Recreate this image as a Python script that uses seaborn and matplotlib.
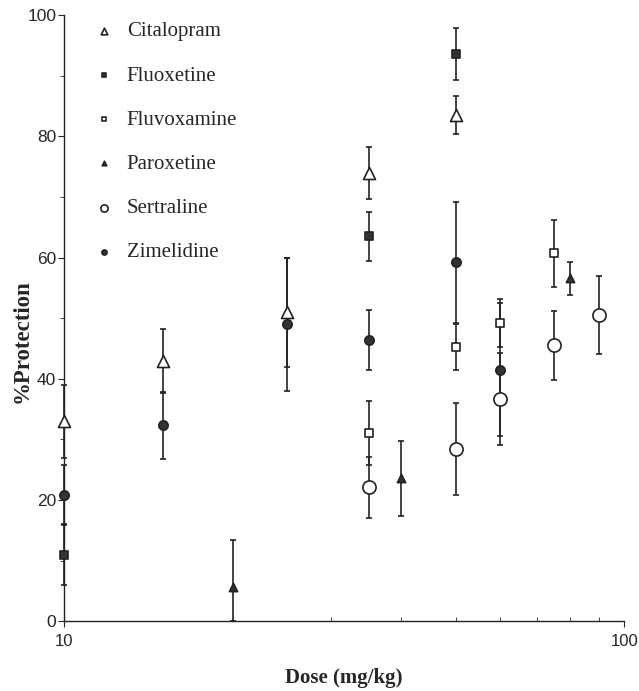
import numpy as np
import pandas as pd
import matplotlib
matplotlib.use("Agg")
import matplotlib.pyplot as plt
from matplotlib.ticker import FixedLocator, NullFormatter
import seaborn as sns

# values
drugs = ["Citalopram", "Fluoxetine", "Fluvoxamine", "Paroxetine", "Sertraline", "Zimelidine"]

citalopram_dose = [10, 15, 25, 35, 50]
citalopram_prot = [33, 43, 51, 74, 83.5]
citalopram_err = [6, 5.3, 9, 4.3, 3.1]

fluoxetine_dose = [10, 35, 50]
fluoxetine_prot = [11, 63.5, 93.6]
fluoxetine_err = [5, 4, 4.3]

fluvoxamine_dose = [35, 50, 60, 75]
fluvoxamine_prot = [31, 45.2, 49.2, 60.7]
fluvoxamine_err = [5.3, 3.8, 4, 5.5]

paroxetine_dose = [20, 40, 80]
paroxetine_prot = [5.6, 23.6, 56.6]
paroxetine_err = [7.8, 6.2, 2.7]

sertraline_dose = [35, 50, 60, 75, 90]
sertraline_prot = [22.1, 28.4, 36.6, 45.5, 50.5]
sertraline_err = [5, 7.6, 7.6, 5.7, 6.4]

zimelidine_dose = [10, 15, 25, 35, 50, 60]
zimelidine_prot = [20.8, 32.3, 49, 46.4, 59.2, 41.5]
zimelidine_err = [5, 5.6, 11, 5, 10, 11]

series = {
    "Citalopram": (citalopram_dose, citalopram_prot, citalopram_err),
    "Fluoxetine": (fluoxetine_dose, fluoxetine_prot, fluoxetine_err),
    "Fluvoxamine": (fluvoxamine_dose, fluvoxamine_prot, fluvoxamine_err),
    "Paroxetine": (paroxetine_dose, paroxetine_prot, paroxetine_err),
    "Sertraline": (sertraline_dose, sertraline_prot, sertraline_err),
    "Zimelidine": (zimelidine_dose, zimelidine_prot, zimelidine_err),
}

rows = []
for drug, (d, p, e) in series.items():
    for xi, yi, ei in zip(d, p, e):
        rows.append(dict(Drug=drug, dose=xi, prot=yi, err=ei))
df = pd.DataFrame(rows)

# marker, face colour, size
styles = {
    "Citalopram": ("^", "white", 75),
    "Fluoxetine": ("s", "#333333", 40),
    "Fluvoxamine": ("s", "white", 40),
    "Paroxetine": ("^", "#333333", 35),
    "Sertraline": ("o", "white", 90),
    "Zimelidine": ("o", "#333333", 45),
}

sns.set_style("ticks")
plt.rcParams["font.family"] = ["Liberation Sans", "DejaVu Sans"]

fig = plt.figure(figsize=(6.39, 6.91), dpi=100)
ax = fig.add_axes([0.100, 0.101, 0.877, 0.877])

for drug in drugs:
    sub = df[df["Drug"] == drug]
    # bars stop at the x axis (nothing below 0 %)
    lower = np.minimum(sub["err"], sub["prot"])
    eb = ax.errorbar(sub["dose"], sub["prot"], yerr=[lower, sub["err"]],
                     fmt="none", ecolor="#222222", elinewidth=1.2,
                     capsize=2.5, capthick=1.2, zorder=2)
    for art in eb.lines[1] + eb.lines[2]:
        art.set_clip_on(False)

for drug in drugs:
    sub = df[df["Drug"] == drug]
    m, fc, s = styles[drug]
    sns.scatterplot(data=sub, x="dose", y="prot", marker=m, s=s,
                    facecolor=fc, edgecolor="#222222", linewidth=1.2,
                    label=drug, ax=ax, zorder=3, clip_on=False)

ax.set_xscale("log")
ax.set_xlim(10, 100)
ax.set_ylim(0, 100)
ax.xaxis.set_major_locator(FixedLocator([10, 100]))
ax.set_xticklabels(["10", "100"])
ax.xaxis.set_minor_locator(FixedLocator([20, 30, 40, 50, 60, 70, 80, 90]))
ax.xaxis.set_minor_formatter(NullFormatter())
ax.tick_params(axis="x", which="major", direction="out", length=4,
               labelsize=12, pad=5)
ax.tick_params(axis="x", which="minor", direction="in", length=3)
ax.set_yticks([0, 20, 40, 60, 80, 100])
ax.yaxis.set_minor_locator(FixedLocator([10, 30, 50, 70, 90]))
ax.tick_params(axis="y", which="major", direction="out", length=4,
               labelsize=12.5, pad=1.5)
ax.tick_params(axis="y", which="minor", direction="out", length=3)
sns.despine(ax=ax)
for sp in ["left", "bottom"]:
    ax.spines[sp].set_linewidth(1.0)
    ax.spines[sp].set_color("#222222")

ax.set_xlabel("Dose (mg/kg)", family="Liberation Serif", fontweight="bold",
              fontsize=15, labelpad=14)
ax.set_ylabel("%Protection", family="Liberation Serif", fontweight="bold",
              fontsize=16.5)
ax.yaxis.set_label_coords(-0.055, 0.462)

leg = ax.legend(loc="upper left", bbox_to_anchor=(0.023, 1.02), frameon=False,
                prop={"family": "Liberation Serif", "size": 15},
                labelspacing=1.18, handletextpad=0.7, markerscale=0.55,
                handlelength=0.8)

fig.savefig("out.png", dpi=100)
